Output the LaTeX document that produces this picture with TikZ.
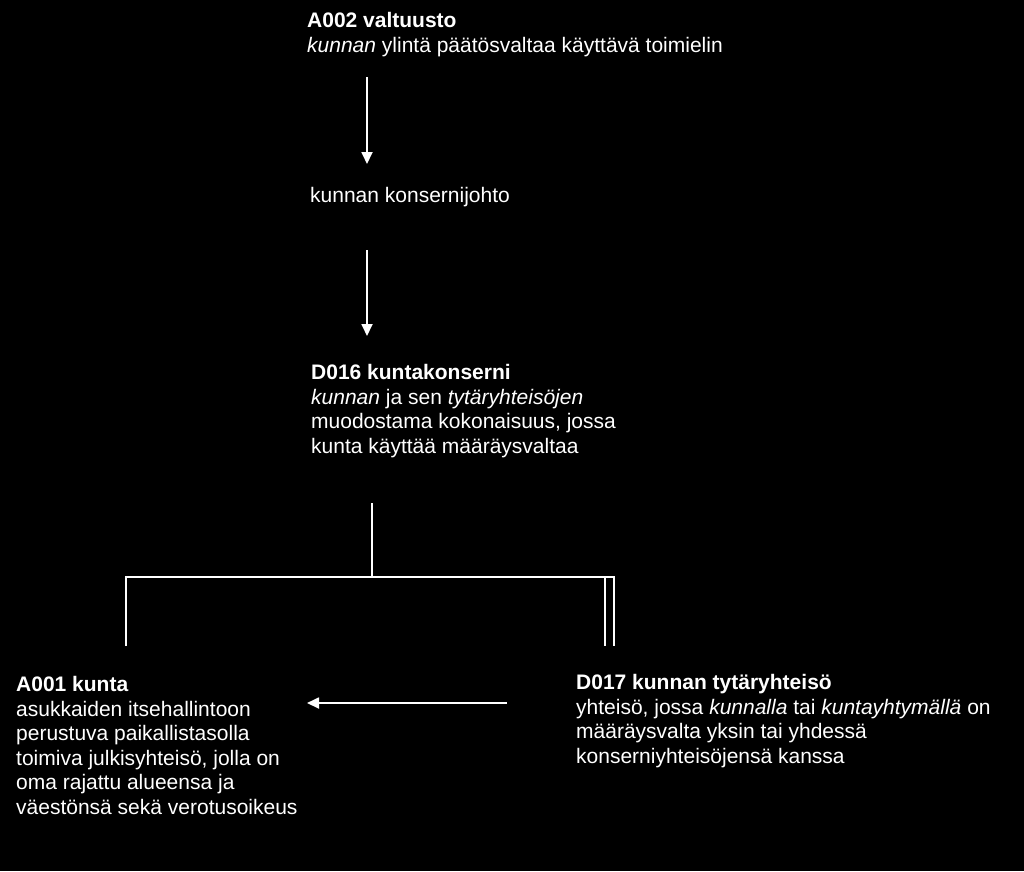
\documentclass[tikz,border=0pt]{standalone}
\usepackage{fontspec}
\setmainfont{Liberation Sans}
\usetikzlibrary{arrows.meta}
\begin{document}
\begin{tikzpicture}[x=1pt,y=-1pt,
  lbl/.style={anchor=base west, inner sep=0pt, align=left, text=white,
    font=\fontsize{21}{24.5}\selectfont},
  conn/.style={draw=white, line width=1.8pt},
  arr/.style={conn, -{Triangle[width=11pt,length=12pt]}}]
\fill[black] (0,0) rectangle (1024,871);
\useasboundingbox (0,0) rectangle (1024,871);

% anchor base = baseline of the last line
\node[lbl] (a002) at (307,52.3) {\textbf{A002 valtuusto}\\\textit{kunnan} ylintä päätösvaltaa käyttävä toimielin};
\node[lbl] (kj) at (310,202) {kunnan konsernijohto};
\node[lbl] (d016) at (311,453) {\textbf{D016 kuntakonserni}\\\textit{kunnan} ja sen \textit{tytäryhteisöjen}\\muodostama kokonaisuus, jossa\\kunta käyttää määräysvaltaa};
\node[lbl] (a001) at (16,814) {\textbf{A001 kunta}\\asukkaiden itsehallintoon\\perustuva paikallistasolla\\toimiva julkisyhteisö, jolla on\\oma rajattu alueensa ja\\väestönsä sekä verotusoikeus};
\node[lbl] (d017) at (576,763) {\textbf{D017 kunnan tytäryhteisö}\\yhteisö, jossa \textit{kunnalla} tai \textit{kuntayhtymällä} on\\määräysvalta yksin tai yhdessä\\konserniyhteisöjensä kanssa};

\coordinate (a1s) at (367,77);
\coordinate (a1e) at (367,164);
\coordinate (a2s) at (367,250);
\coordinate (a2e) at (367,336);
\coordinate (bt) at (372,503);
\coordinate (bj) at (372,577);
\coordinate (bl) at (126,577);
\coordinate (br) at (614,577);
\coordinate (br2) at (605,577);
\coordinate (bld) at (126,646);
\coordinate (brd) at (614,646);
\coordinate (br2d) at (605,646);
\coordinate (hs) at (507,703);
\coordinate (he) at (307,703);

\draw[arr] (a1s) -- (a1e);
\draw[arr] (a2s) -- (a2e);
\draw[conn] (bt) -- (bj);
\draw[conn] (bld) -- (bl) -- (br) -- (brd);
\draw[conn] (br2) -- (br2d);
\draw[arr] (hs) -- (he);
\end{tikzpicture}
\end{document}
